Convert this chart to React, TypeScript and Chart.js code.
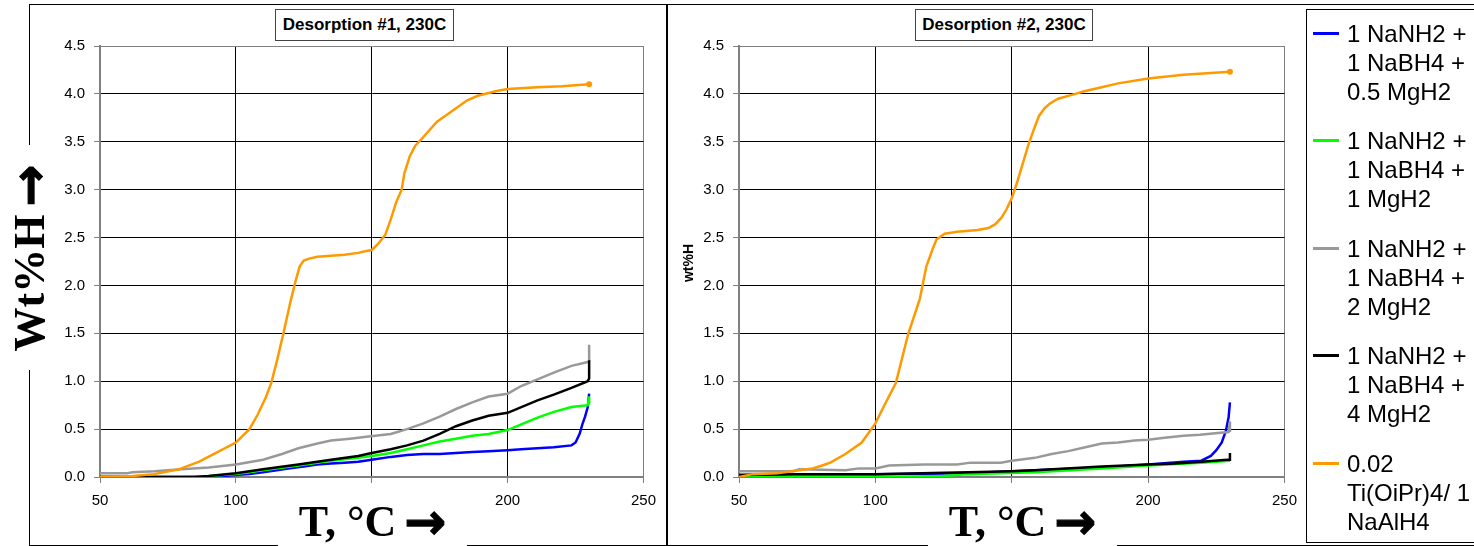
import React, { useEffect, useRef } from 'react';
import { Chart, registerables } from 'chart.js';

Chart.register(...registerables);

// ---------- series meta ----------
const seriesNames = [
  '1 NaNH2 + 1 NaBH4 + 0.5 MgH2',
  '1 NaNH2 + 1 NaBH4 + 1 MgH2',
  '1 NaNH2 + 1 NaBH4 + 2 MgH2',
  '1 NaNH2 + 1 NaBH4 + 4 MgH2',
  '0.02 Ti(OiPr)4/ 1 NaAlH4',
];
const legendLines = [
  ['1 NaNH2 +', '1 NaBH4 +', '0.5 MgH2'],
  ['1 NaNH2 +', '1 NaBH4 +', '1 MgH2'],
  ['1 NaNH2 +', '1 NaBH4 +', '2 MgH2'],
  ['1 NaNH2 +', '1 NaBH4 +', '4 MgH2'],
  ['0.02', 'Ti(OiPr)4/ 1', 'NaAlH4'],
];
const seriesColors = ['#0000FF', '#00FF00', '#999999', '#000000', '#FF9900'];
const drawOrder = [4, 3, 2, 1, 0];

const panelTitles = ['Desorption #1, 230C', 'Desorption #2, 230C'];
const xAxisTitle = 'T, °C';
const yAxisTitleLeft = 'Wt%H';
const titleArrow = '→';
const yAxisTitleRight = 'wt%H';

// ---------- axes ----------
const xMin = 50;
const xMax = 250;
const xStep = 50;
const xHiddenTick = 150;
const yMin = 0;
const yMax = 4.5;
const yStep = 0.5;

// ---------- Desorption #1 ----------
const d1BlueT = [50, 90, 95, 100, 105, 110, 115, 120, 125, 130, 135, 140, 145, 150, 157, 163, 169, 175, 181, 187, 193, 200, 205, 211, 217, 223.5, 225, 226.5, 227.5, 228.5, 229.5, 230];
const d1BlueW = [0.0, 0.0, 0.01, 0.02, 0.03, 0.05, 0.07, 0.09, 0.11, 0.13, 0.14, 0.15, 0.16, 0.18, 0.21, 0.23, 0.24, 0.24, 0.25, 0.26, 0.27, 0.28, 0.29, 0.30, 0.31, 0.33, 0.36, 0.45, 0.55, 0.63, 0.73, 0.87];

const d1GreenT = [50, 80, 90, 100, 110, 123, 135, 145, 150, 157, 163, 169, 175, 181, 187, 193, 200, 205, 211, 217, 223.5, 229.5, 230, 230];
const d1GreenW = [0.0, 0.0, 0.01, 0.03, 0.07, 0.12, 0.17, 0.2, 0.22, 0.25, 0.29, 0.33, 0.37, 0.4, 0.43, 0.45, 0.49, 0.55, 0.62, 0.68, 0.73, 0.75, 0.84, 0.76];

const d1GrayT = [50, 60, 62, 70, 80, 90, 100, 110, 117, 123, 130, 135, 142, 148, 157, 163, 169, 175, 181, 187, 193, 200, 205, 211, 217, 223.5, 229.5, 230, 230];
const d1GrayW = [0.04, 0.04, 0.05, 0.06, 0.08, 0.1, 0.13, 0.18, 0.24, 0.3, 0.35, 0.38, 0.4, 0.42, 0.45, 0.5, 0.56, 0.63, 0.71, 0.78, 0.84, 0.87, 0.95, 1.02, 1.09, 1.16, 1.2, 1.21, 1.38];

const d1BlackT = [50, 70, 85, 90, 100, 110, 123, 135, 145, 150, 157, 163, 169, 175, 181, 187, 193, 200, 211, 217, 223.5, 229.5, 230, 230];
const d1BlackW = [0.0, 0.0, 0.0, 0.01, 0.04, 0.08, 0.13, 0.18, 0.22, 0.25, 0.29, 0.33, 0.38, 0.45, 0.53, 0.59, 0.64, 0.67, 0.8, 0.86, 0.93, 1.0, 1.03, 1.22];

const d1OrangeT = [50, 62, 70, 79, 86.5, 92.5, 100, 105, 108, 111, 113, 115, 117.5, 120, 122, 123.5, 125, 127, 130, 135, 140, 145, 148, 150, 152.5, 155, 157, 159, 161, 162, 164, 166, 169, 174, 180, 185, 189, 196, 200, 211, 220, 230];
const d1OrangeW = [0.0, 0.01, 0.03, 0.08, 0.16, 0.25, 0.36, 0.5, 0.65, 0.83, 0.98, 1.2, 1.5, 1.82, 2.05, 2.2, 2.26, 2.28, 2.3, 2.31, 2.32, 2.34, 2.36, 2.37, 2.44, 2.53, 2.69, 2.87, 3.0, 3.17, 3.35, 3.46, 3.55, 3.71, 3.83, 3.93, 3.98, 4.03, 4.05, 4.07, 4.08, 4.1];

// ---------- Desorption #2 ----------
const d2BlueT = [50, 70, 100, 134, 158.5, 183, 200, 213, 219.5, 223, 225, 227, 228.5, 229.5, 230];
const d2BlueW = [0.02, 0.03, 0.03, 0.04, 0.07, 0.1, 0.13, 0.16, 0.17, 0.22, 0.28, 0.36, 0.48, 0.62, 0.78];

const d2GreenT = [50, 100, 125, 134, 158.5, 183, 200, 219.5, 230];
const d2GreenW = [0.0, 0.0, 0.01, 0.03, 0.05, 0.09, 0.12, 0.15, 0.17];

const d2GrayT = [50, 70, 72, 89, 94, 100, 105, 118, 130, 135, 146, 150, 158.5, 164.6, 170.7, 177, 183, 189, 195, 200, 206, 213, 219, 225.6, 229.5, 230, 230];
const d2GrayW = [0.06, 0.06, 0.08, 0.07, 0.09, 0.09, 0.12, 0.13, 0.13, 0.15, 0.15, 0.17, 0.2, 0.24, 0.27, 0.31, 0.35, 0.36, 0.38, 0.39, 0.41, 0.43, 0.44, 0.46, 0.47, 0.58, 0.47];

const d2BlackT = [50, 70, 100, 134, 150, 158.5, 170, 183, 200, 210, 219.5, 229, 230, 230];
const d2BlackW = [0.02, 0.03, 0.03, 0.05, 0.06, 0.07, 0.09, 0.11, 0.13, 0.14, 0.16, 0.18, 0.18, 0.25];

const d2OrangeT = [50, 55, 64, 72, 77, 80.5, 83.5, 89, 95, 100, 103.5, 107.5, 112, 116.3, 118.7, 121, 122.4, 125.4, 130, 137.5, 141.5, 144, 146.3, 148, 150, 152, 153.7, 156, 158.5, 160, 162, 164, 167, 172, 177, 183, 189, 200, 213, 230];
const d2OrangeW = [0.0, 0.03, 0.04, 0.07, 0.09, 0.12, 0.15, 0.24, 0.36, 0.56, 0.76, 0.98, 1.49, 1.86, 2.2, 2.38, 2.48, 2.54, 2.56, 2.58, 2.6, 2.64, 2.71, 2.79, 2.91, 3.08, 3.24, 3.46, 3.66, 3.77, 3.85, 3.9, 3.95, 3.99, 4.03, 4.07, 4.11, 4.16, 4.2, 4.23];

const panel1Series: [number[], number[]][] = [
  [d1BlueT, d1BlueW],
  [d1GreenT, d1GreenW],
  [d1GrayT, d1GrayW],
  [d1BlackT, d1BlackW],
  [d1OrangeT, d1OrangeW],
];
const panel2Series: [number[], number[]][] = [
  [d2BlueT, d2BlueW],
  [d2GreenT, d2GreenW],
  [d2GrayT, d2GrayW],
  [d2BlackT, d2BlackW],
  [d2OrangeT, d2OrangeW],
];

const SANS = 'Arial, "Liberation Sans", Helvetica, sans-serif';
const SERIF = '"Times New Roman", "Liberation Serif", "DejaVu Serif", serif';

function buildConfig(series: [number[], number[]][], yWidth: number, padRight: number, xHeight: number, padTop: number): any {
  const datasets = series.map(([T, W], i) => ({
    label: seriesNames[i],
    data: T.map((t, k) => ({ x: t, y: W[k] })),
    borderColor: seriesColors[i],
    backgroundColor: seriesColors[i],
    borderWidth: 2.5,
    tension: 0,
    fill: false,
    order: drawOrder[i],
    pointRadius: (ctx: any) => (i === 4 && ctx.dataIndex === T.length - 1 ? 3 : 0),
    pointBorderWidth: 0,
  }));
  const gridColor = (max: number) => (ctx: any) =>
    ctx.tick && Math.abs(ctx.tick.value - max) < 1e-9 ? '#808080' : '#000000';
  return {
    type: 'line',
    data: { datasets },
    options: {
      animation: false,
      responsive: false,
      maintainAspectRatio: false,
      layout: { padding: { left: 0, right: padRight, top: padTop, bottom: 0 } },
      plugins: {
        legend: { display: false },
        tooltip: { enabled: false },
        title: { display: false },
      },
      scales: {
        x: {
          type: 'linear',
          min: xMin,
          max: xMax,
          ticks: {
            stepSize: xStep,
            color: '#000',
            padding: 9,
            font: { family: SANS, size: 15 },
            callback: (v: number) => (v === xHiddenTick ? '' : String(v)),
          },
          grid: { color: gridColor(xMax), lineWidth: 1, tickLength: 6, tickColor: '#808080' },
          border: { color: '#808080', width: 2 },
          afterFit: (s: any) => {
            s.height = xHeight;
          },
        },
        y: {
          min: yMin,
          max: yMax,
          ticks: {
            stepSize: yStep,
            color: '#000',
            padding: 9,
            font: { family: SANS, size: 15 },
            callback: (v: number) => Number(v).toFixed(1),
          },
          grid: { color: gridColor(yMax), lineWidth: 1, tickLength: 6, tickColor: '#808080' },
          border: { color: '#808080', width: 2 },
          afterFit: (s: any) => {
            s.width = yWidth;
          },
        },
      },
    },
  };
}

function Panel(props: { left: number; width: number; series: [number[], number[]][]; yWidth: number; padRight: number }) {
  const ref = useRef<HTMLCanvasElement | null>(null);
  useEffect(() => {
    if (!ref.current) return;
    const chart = new Chart(ref.current, buildConfig(props.series, props.yWidth, props.padRight, 69, 46));
    return () => chart.destroy();
  }, []);
  return (
    <canvas
      ref={ref}
      width={props.width}
      height={546}
      style={{ position: 'absolute', left: props.left, top: 0, width: props.width, height: 546 }}
    />
  );
}

const abs = (s: React.CSSProperties): React.CSSProperties => ({ position: 'absolute', ...s });

const arrowStyle: React.CSSProperties = {
  fontFamily: '"DejaVu Sans", sans-serif',
  fontWeight: 'bold',
  fontSize: 50,
  WebkitTextStroke: '1.2px #000',
  marginLeft: 8,
  display: 'inline-block',
};

export default function App() {
  return (
    <div style={{ position: 'absolute', left: 0, top: 0, width: 1474, height: 546, overflow: 'hidden', background: '#fff' }}>
      {/* outer frames */}
      <div style={abs({ left: 29, top: 4, width: 1445, height: 1, background: '#000' })} />
      <div style={abs({ left: 29, top: 545, width: 1445, height: 1, background: '#000' })} />
      <div style={abs({ left: 29, top: 4, width: 1, height: 542, background: '#000' })} />
      <div style={abs({ left: 666, top: 4, width: 2, height: 541, background: '#000' })} />
      {/* legend box */}
      <div style={abs({ left: 1306, top: 9, width: 200, height: 534, border: '1px solid #000', boxSizing: 'border-box', background: '#fff' })} />

      <Panel left={0} width={665} series={panel1Series} yWidth={100} padRight={17} />
      <Panel left={668} width={638} series={panel2Series} yWidth={71} padRight={19} />

      {/* panel titles */}
      <div style={abs({ left: 275, top: 9, width: 179, height: 32, border: '1px solid #444', boxSizing: 'border-box', background: '#fff', font: `bold 17px ${SANS}`, display: 'flex', alignItems: 'center', justifyContent: 'center', whiteSpace: 'nowrap' })}>
        {panelTitles[0]}
      </div>
      <div style={abs({ left: 915, top: 9, width: 178, height: 32, border: '1px solid #444', boxSizing: 'border-box', background: '#fff', font: `bold 17px ${SANS}`, display: 'flex', alignItems: 'center', justifyContent: 'center', whiteSpace: 'nowrap' })}>
        {panelTitles[1]}
      </div>

      {/* x axis titles */}
      {[278, 928].map((l, i) => (
        <div key={i} style={abs({ left: l, top: 498, width: 189, height: 48, background: '#fff', font: `bold 44px ${SERIF}`, display: 'flex', alignItems: 'center', justifyContent: 'center', whiteSpace: 'nowrap', lineHeight: '48px' })}>
          {xAxisTitle}
          <span style={arrowStyle}>{titleArrow}</span>
        </div>
      ))}

      {/* y axis title (left panel) */}
      <div style={abs({ left: 12, top: 145, width: 52, height: 225, background: '#fff' })} />
      <div style={abs({ left: 29 - 112, top: 258 - 20, width: 225, height: 40, transform: 'rotate(-90deg)', font: `bold 44px ${SERIF}`, display: 'flex', alignItems: 'center', justifyContent: 'center', whiteSpace: 'nowrap', lineHeight: '40px' })}>
        {yAxisTitleLeft}
        <span style={arrowStyle}>{titleArrow}</span>
      </div>
      {/* y axis title (right panel) */}
      <div style={abs({ left: 688 - 30, top: 263 - 9, width: 60, height: 18, transform: 'rotate(-90deg)', font: `bold 14px ${SANS}`, display: 'flex', alignItems: 'center', justifyContent: 'center', whiteSpace: 'nowrap' })}>
        {yAxisTitleRight}
      </div>

      {/* legend items */}
      {legendLines.map((lines, i) => {
        const cy = 33 + i * 107.5;
        return (
          <React.Fragment key={i}>
            <div style={abs({ left: 1313, top: cy - 1.5, width: 26, height: 3, background: seriesColors[i] })} />
            <div style={abs({ left: 1347, top: cy - 14.5, font: `24px ${SANS}`, lineHeight: '29px', whiteSpace: 'pre', color: '#000' })}>
              {lines.join('\n')}
            </div>
          </React.Fragment>
        );
      })}
    </div>
  );
}
